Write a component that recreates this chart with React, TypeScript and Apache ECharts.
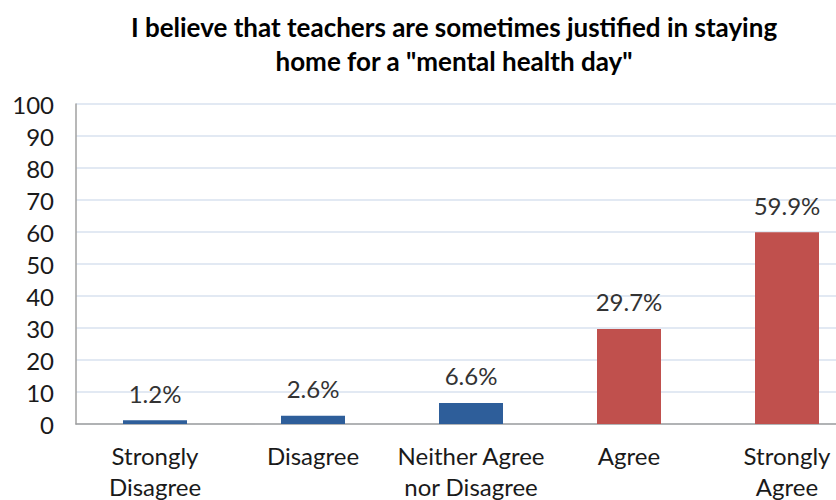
import React, { useEffect, useRef } from "react";
import * as echarts from "echarts";

const titleText = 'I believe that teachers are sometimes justified in staying\nhome for a "mental health day"';
const categories = ["Strongly\nDisagree", "Disagree", "Neither Agree\nnor Disagree", "Agree", "Strongly\nAgree"];
const values = [1.2, 2.6, 6.6, 29.7, 59.9];
const barColors = ["#2e5e9a", "#2e5e9a", "#2e5e9a", "#c0504d", "#c0504d"];
const yTicks = { min: 0, max: 100, interval: 10 };

const FONT = "Lato";

export default function App() {
  const ref = useRef<HTMLDivElement>(null);
  useEffect(() => {
    document.body.style.margin = "0";
    const chart = echarts.init(ref.current!, null, { renderer: "svg" });
    chart.setOption({
      animation: false,
      backgroundColor: "#ffffff",
      title: {
        text: titleText,
        left: 449,
        top: 5,
        textAlign: "center",
        textStyle: {
          fontFamily: FONT,
          fontWeight: "bold",
          fontSize: 26,
          lineHeight: 34,
          color: "#000000",
        },
      },
      grid: {
        left: 76,
        width: 790,
        top: 104,
        height: 320,
        containLabel: false,
        outerBoundsMode: "none",
      },
      xAxis: {
        type: "category",
        data: categories,
        axisLine: { show: true, lineStyle: { color: "#a0a0a0", width: 1.5 } },
        axisTick: { show: false },
        axisLabel: {
          fontFamily: FONT,
          fontSize: 24,
          lineHeight: 31,
          color: "#1a1a1a",
          margin: 16,
          interval: 0,
        },
      },
      yAxis: {
        type: "value",
        min: yTicks.min,
        max: yTicks.max,
        interval: yTicks.interval,
        axisLine: { show: true, lineStyle: { color: "#a0a0a0", width: 1.5 } },
        axisTick: { show: false },
        splitLine: { show: true, lineStyle: { color: "#d9e2ef", width: 1.5 } },
        axisLabel: {
          fontFamily: FONT,
          fontSize: 24,
          color: "#1a1a1a",
          margin: 22,
        },
      },
      series: [
        {
          type: "bar",
          data: values.map((v, i) => ({ value: v, itemStyle: { color: barColors[i] } })),
          barWidth: 64,
          label: {
            show: true,
            position: "top",
            distance: 15,
            formatter: "{c}%",
            fontFamily: FONT,
            fontSize: 24,
            color: "#333333",
          },
        },
      ],
    });
    return () => chart.dispose();
  }, []);
  return <div ref={ref} style={{ width: 836, height: 500 }} />;
}
